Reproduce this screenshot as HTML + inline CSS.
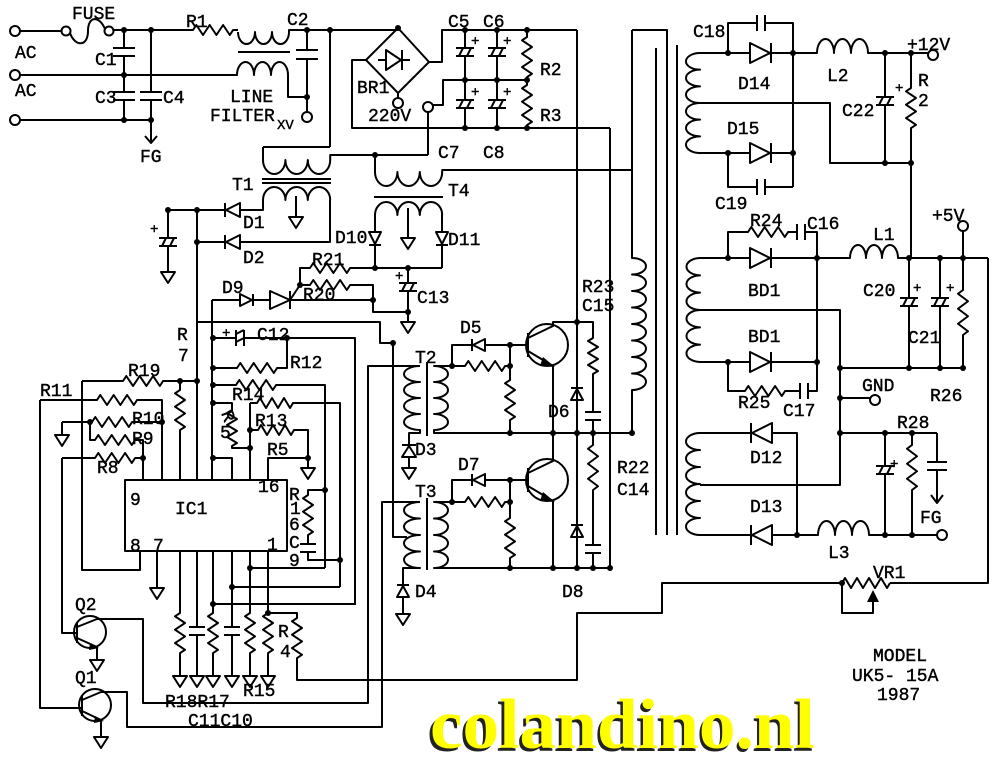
<!DOCTYPE html>
<html><head><meta charset="utf-8"><style>
html,body{margin:0;padding:0;background:#fff;}
svg{display:block;}
.t{font-family:"Liberation Mono","DejaVu Sans Mono",monospace;font-size:18px;fill:#000;stroke:#000;stroke-width:0.4;}
.s{font-size:14px;}
</style></head><body>
<svg xmlns="http://www.w3.org/2000/svg" width="1000" height="760" viewBox="0 0 1000 760">
<rect width="1000" height="760" fill="#fff"/>
<g fill="none" stroke="#000" stroke-width="2" stroke-linejoin="round">
<!-- input -->
<circle cx="15" cy="31" r="5"/><circle cx="15" cy="75" r="5"/><circle cx="15" cy="120" r="5"/>
<path d="M20,31 H62"/>
<circle cx="66" cy="31" r="4.5"/><circle cx="109" cy="31" r="4.5"/>
<path d="M70,33 C75,47 88,47 88,31 C88,16 99,15 105,29"/>
<path d="M113,30 H193 l3.3,-5 l6.7,10 l6.7,-10 l6.7,10 l6.7,-10 l6.7,10 l3.3,-5 H238"/>
<path d="M238,32 a8.5,12 0 0 0 17,0 a8.5,12 0 0 0 17,0 a8.5,12 0 0 0 17,0 V30 H398"/>
<path d="M238,52 H290"/>
<path d="M20,75 H237 a8.5,13 0 0 1 17,0 a8.5,13 0 0 1 17,0 a8.5,13 0 0 1 17,0 V97 H307"/>
<path d="M307,30 V50 M296,50 H318 M296,59 H318 M307,59 V112"/>
<circle cx="307" cy="117" r="5"/>
<path d="M20,120 H151"/>
<path d="M124,30 V48 M113,48 H135 M113,56 H135 M124,56 V92 M113,92 H135 M113,100 H135 M124,100 V120"/>
<path d="M151,30 V92 M140,92 H162 M140,100 H162 M151,100 V143 M145,136 L151,143 L157,136"/>
<path d="M330,30 V147"/>
<!-- BR1 -->
<path d="M398,28 L429,62 L398,93 L366,60 Z M386,50 L386,70 L401,60 Z M402,50 V70 M378,60 H386 M402,60 H410"/>
<path d="M429,62 H442 V30 H577 M366,60 H352 V128 H610 M398,93 V98"/>
<circle cx="398" cy="103" r="5"/><circle cx="428" cy="107" r="5"/>
<path d="M428,112 V155 M433,105 H443 V80 H527"/>
<path d="M465,30 V48 M456,48 H474 M456,56 H474 M459,56 L463,48 M467,56 L471,48 M465,56 V100 M456,100 H474 M456,108 H474 M459,108 L463,100 M467,108 L471,100 M465,108 V128"/>
<path d="M497,30 V48 M488,48 H506 M488,56 H506 M491,56 L495,48 M499,56 L503,48 M497,56 V100 M488,100 H506 M488,108 H506 M491,108 L495,100 M499,108 L503,100 M497,108 V128"/>
<path d="M527,30 V37 l-5,3.3 l10,6.7 l-10,6.7 l10,6.7 l-10,6.7 l10,6.7 l-5,3.3 V85 l-5,3.3 l10,6.7 l-10,6.7 l10,6.7 l-10,6.7 l10,6.7 l-5,3.3 V128"/>
<path d="M577,30 V568 M610,128 V568"/>
<!-- T1 -->
<path d="M263,147 H330 M263,147 V160 a11.2,14 0 0 0 22.4,0 a11.2,14 0 0 0 22.4,0 a11.2,14 0 0 0 22.4,0 V155 H428"/>
<path d="M262,179 H331 M262,183 H331"/>
<path d="M263,200 a11.2,13 0 0 1 22.4,0 a11.2,13 0 0 1 22.4,0 a11.2,13 0 0 1 22.4,0"/>
<path d="M263,200 V210 H240 M330,200 V242 H240 M296,196 V217 M289,217 H303 L296,228 Z"/>
<path d="M240,203 L240,217 L226,210 Z M225,203 V217 M226,210 H168 M240,235 L240,249 L226,242 Z M225,235 V249 M226,242 H197"/>
<path d="M168,210 V238 M159,238 H177 M159,246 H177 M162,246 L166,238 M170,246 L174,238 M168,246 V272 M161,272 H175 L168,283 Z"/>
<path d="M197,210 V480"/>
<!-- T4 -->
<path d="M375,155 V172 a11.2,14 0 0 0 22.4,0 a11.2,14 0 0 0 22.4,0 a11.2,14 0 0 0 22.4,0 V170 H632"/>
<path d="M374,197 H443"/>
<path d="M375,215 a11.2,13 0 0 1 22.4,0 a11.2,13 0 0 1 22.4,0 a11.2,13 0 0 1 22.4,0"/>
<path d="M375,215 V232 M369,232 H381 L375,244 Z M369,245 H381 M375,245 V268"/>
<path d="M408,208 V238 M401,238 H415 L408,249 Z"/>
<path d="M442,215 V232 M436,232 H448 L442,244 Z M436,245 H448 M442,245 V268"/>
<path d="M300,285 V268 H310 l3.3,-5 l6.7,10 l6.7,-10 l6.7,10 l6.7,-10 l6.7,10 l3.3,-5 H442"/>
<path d="M300,285 H310 l3.3,-5 l6.7,10 l6.7,-10 l6.7,10 l6.7,-10 l6.7,10 l3.3,-5 H373 V312 H408"/>
<path d="M408,268 V283 M399,283 H417 M399,291 H417 M402,291 L406,283 M410,291 L414,283 M408,291 V322 M401,322 H415 L408,333 Z"/>
<path d="M212,300 H240 M240,294 V306 L252,300 Z M253,294 V306 M253,300 H270 M270,291 V309 L290,300 Z M290,291 V309 M290,300 L300,285 M290,300 H373"/>
<path d="M197,322 H380 V343 H393 V537 H407"/>
<!-- IC left -->
<path d="M82,381 H123 l3.3,-5 l6.7,10 l6.7,-10 l6.7,10 l6.7,-10 l6.7,10 l3.3,-5 H197"/>
<path d="M180,381 V390 l-5,3.3 l10,6.7 l-10,6.7 l10,6.7 l-10,6.7 l10,6.7 l-5,3.3 V480"/>
<path d="M82,381 V570 H140 V551"/>
<path d="M40,400 H97 l3.3,-5 l6.7,10 l6.7,-10 l6.7,10 l6.7,-10 l6.7,10 l3.3,-5 H162 V480"/>
<path d="M40,400 V708 H82"/>
<path d="M62,422 V435 M55,435 H69 L62,446 Z M62,422 H92 l3.3,-5 l6.7,10 l6.7,-10 l6.7,10 l6.7,-10 l6.7,10 l3.3,-5 H162"/>
<path d="M90,422 V440 H95 l3.3,-5 l6.7,10 l6.7,-10 l6.7,10 l6.7,-10 l6.7,10 l3.3,-5 H143 V480"/>
<path d="M62,458 H95 l3.3,-5 l6.7,10 l6.7,-10 l6.7,10 l6.7,-10 l6.7,10 l3.3,-5 H143"/>
<path d="M62,458 V633 H77"/>
<path d="M125,480 H287 V551 H125 Z"/>
<path d="M212,300 V480"/>
<path d="M213,338 H236 M236,330 V346 M244,330 V346 M236,334 L244,330 M236,342 L244,338 M244,338 H355 V605"/>
<path d="M213,368 H237 l3.3,-5 l6.7,10 l6.7,-10 l6.7,10 l6.7,-10 l6.7,10 l3.3,-5 H287 V338"/>
<path d="M213,385 H236 l3.3,-5 l6.7,10 l6.7,-10 l6.7,10 l6.7,-10 l6.7,10 l3.3,-5 H325 V568"/>
<path d="M213,403 H232 V410 l-5,3 l10,6 l-10,6 l10,6 l-10,6 l10,6 l-5,3 V448 H250"/>
<path d="M250,403 H257 l3,-5 l6,10 l6,-10 l6,10 l6,-10 l6,10 l3,-5 H340 V587"/>
<path d="M250,430 H258 l3,-5 l6,10 l6,-10 l6,10 l6,-10 l6,10 l3,-5 H308 V458"/>
<path d="M250,403 V480"/>
<path d="M268,480 V458 H308 V468 M301,468 H315 L308,479 Z"/>
<path d="M213,458 H232 V480"/>
<path d="M325,490 H308 V495 l-5,3.3 l10,6.7 l-10,6.7 l10,6.7 l-10,6.7 l10,6.7 l-5,3.3 V544 M300,544 H316 M300,552 H316 M308,552 V560 H340"/>
<!-- IC bottom -->
<path d="M180,551 V613 l-5,3.3 l10,6.7 l-10,6.7 l10,6.7 l-10,6.7 l10,6.7 l-5,3.3 V676 M173,676 H187 L180,687 Z"/>
<path d="M197,551 V627 M189,627 H205 M189,635 H205 M197,635 V676 M190,676 H204 L197,687 Z"/>
<path d="M213,551 V613 l-5,3.3 l10,6.7 l-10,6.7 l10,6.7 l-10,6.7 l10,6.7 l-5,3.3 V676 M206,676 H220 L213,687 Z"/>
<path d="M232,551 V627 M224,627 H240 M224,635 H240 M232,635 V676 M225,676 H239 L232,687 Z"/>
<path d="M250,551 V613 l-5,3.3 l10,6.7 l-10,6.7 l10,6.7 l-10,6.7 l10,6.7 l-5,3.3 V676 M243,676 H257 L250,687 Z"/>
<path d="M268,551 V613 l-5,3.3 l10,6.7 l-10,6.7 l10,6.7 l-10,6.7 l10,6.7 l-5,3.3 V676 M261,676 H275 L268,687 Z"/>
<path d="M250,568 H325 M232,587 H340 M213,604 H355"/>
<path d="M268,613 H297 V618 l-5,3.3 l10,6.7 l-10,6.7 l10,6.7 l-10,6.7 l10,6.7 l-5,3.3 V680 H577 V613 H662 V583 H842"/>
<path d="M157,551 V588 M150,588 H164 L157,599 Z"/>
<!-- Q2 Q1 -->
<circle cx="90" cy="632" r="16"/>
<path d="M77,622 V643 M77,627 L97,619 H143 V703 H368 V366 H420 M77,638 L97,647 V660 M90,660 H104 L97,671 Z"/>
<circle cx="95" cy="705" r="16"/>
<path d="M82,695 V716 M82,700 L101,692 H127 V727 H382 V502 H420 M82,711 L101,720 V737 M94,737 H108 L101,748 Z"/>
<!-- T2 -->
<path d="M420,366 a16,8 0 0 0 0,16 a16,8 0 0 0 0,16 a16,8 0 0 0 0,16 a16,8 0 0 0 0,16 V433 H409 V445"/>
<path d="M402,457 H416 L409,446 Z M402,445 H416 M409,457 V468 M402,468 H416 L409,479 Z"/>
<path d="M427,362 V436"/>
<path d="M452,366 H434 a14,8 0 0 1 0,16 a14,8 0 0 1 0,16 a14,8 0 0 1 0,16 a14,8 0 0 1 0,16 V433 H632"/>
<path d="M452,366 V345 H472 M485,339 V351 L473,345 Z M472,339 V351 M485,345 H528"/>
<path d="M452,366 H465 l3.3,-5 l6.7,10 l6.7,-10 l6.7,10 l6.7,-10 l6.7,10 l3.3,-5 H510"/>
<path d="M510,345 V380 l-5,3.3 l10,6.7 l-10,6.7 l10,6.7 l-10,6.7 l10,6.7 l-5,3.3 V433"/>
<circle cx="547" cy="345" r="21"/>
<path d="M528,333 V357 M528,338 L553,326 V322 H577 M528,351 L553,366 V433"/>
<path d="M577,322 H593 V338 l-5,3 l10,6 l-10,6 l10,6 l-10,6 l10,6 l-5,3 V412 M585,412 H601 M585,420 H601 M593,420 V433"/>
<path d="M571,400 H583 L577,389 Z M571,388 H583"/>
<path d="M632,30 V258 a14,8.25 0 0 1 0,16.5 a14,8.25 0 0 1 0,16.5 a14,8.25 0 0 1 0,16.5 a14,8.25 0 0 1 0,16.5 a14,8.25 0 0 1 0,16.5 a14,8.25 0 0 1 0,16.5 a14,8.25 0 0 1 0,16.5 a14,8.25 0 0 1 0,16.5 V433"/>
<!-- T3 -->
<path d="M420,502 a16,8.25 0 0 0 0,16.5 a16,8.25 0 0 0 0,16.5 a16,8.25 0 0 0 0,16.5 a16,8.25 0 0 0 0,16.5 H403 V585"/>
<path d="M397,597 H409 L403,586 Z M397,585 H409 M403,597 V614 M396,614 H410 L403,625 Z"/>
<path d="M427,498 V570"/>
<path d="M452,502 H434 a14,8.25 0 0 1 0,16.5 a14,8.25 0 0 1 0,16.5 a14,8.25 0 0 1 0,16.5 a14,8.25 0 0 1 0,16.5 H612"/>
<path d="M452,502 V480 H472 M485,474 V486 L473,480 Z M472,474 V486 M485,480 H528"/>
<path d="M452,502 H465 l3.3,-5 l6.7,10 l6.7,-10 l6.7,10 l6.7,-10 l6.7,10 l3.3,-5 H510"/>
<path d="M510,480 V518 l-5,3.3 l10,6.7 l-10,6.7 l10,6.7 l-10,6.7 l10,6.7 l-5,3.3 V568"/>
<circle cx="547" cy="480" r="21"/>
<path d="M528,468 V492 M528,473 L553,461 V433 M528,486 L553,501 V568"/>
<path d="M571,537 H583 L577,526 Z M571,525 H583"/>
<path d="M593,433 V445 l-5,3.75 l10,7.5 l-10,7.5 l10,7.5 l-10,7.5 l10,7.5 l-5,3.75 V545 M585,545 H601 M585,553 H601 M593,553 V568"/>
<!-- main transformer core -->
<path d="M632,30 H667 V535 M656,48 V535 M677,45 V535"/>
<!-- +12V -->
<path d="M700,53 a14,8.33 0 0 0 0,16.67 a14,8.33 0 0 0 0,16.67 a14,8.33 0 0 0 0,16.67 a14,8.33 0 0 0 0,16.67 a14,8.33 0 0 0 0,16.67 a14,8.33 0 0 0 0,16.67"/>
<path d="M700,53 H750 M750,43 V63 L770,53 Z M771,43 V63 M771,53 H817 a8.5,14 0 0 1 17,0 a8.5,14 0 0 1 17,0 a8.5,14 0 0 1 17,0 H928"/>
<circle cx="933" cy="55" r="5"/>
<path d="M728,53 V23 H757 M757,15 V31 M765,15 V31 M765,23 H793 V187"/>
<path d="M700,103 H830 V163 H911"/>
<path d="M700,153 H750 M750,143 V163 L770,153 Z M771,143 V163 M771,153 H793"/>
<path d="M728,153 V187 H757 M757,179 V195 M765,179 V195 M765,187 H793"/>
<path d="M885,53 V97 M876,97 H894 M876,105 H894 M879,105 L883,97 M887,105 L891,97 M885,105 V163"/>
<path d="M911,53 V88 l-5,3.3 l10,6.7 l-10,6.7 l10,6.7 l-10,6.7 l10,6.7 l-5,3.3 V258"/>
<!-- +5V -->
<path d="M700,258 a14,8.67 0 0 0 0,17.33 a14,8.67 0 0 0 0,17.33 a14,8.67 0 0 0 0,17.33 a14,8.67 0 0 0 0,17.33 a14,8.67 0 0 0 0,17.33 a14,8.67 0 0 0 0,17.33"/>
<path d="M728,258 V232 H748 l3.3,-5 l6.7,10 l6.7,-10 l6.7,10 l6.7,-10 l6.7,10 l3.3,-5 H797 M797,224 V240 M805,224 V240 M805,232 H817 V362"/>
<path d="M700,258 H750 M750,248 V268 L770,258 Z M771,248 V268 M771,258 H850 a8,13 0 0 1 16,0 a8,13 0 0 1 16,0 a8,13 0 0 1 16,0 H988"/>
<circle cx="963" cy="226" r="5"/>
<path d="M963,231 V258"/>
<path d="M700,310 H840 V485 H700"/>
<path d="M700,362 H750 M750,352 V372 L770,362 Z M771,352 V372 M771,362 H817"/>
<path d="M728,362 V391 H745 l3.3,-5 l6.7,10 l6.7,-10 l6.7,10 l6.7,-10 l6.7,10 l3.3,-5 H800 M800,383 V399 M808,383 V399 M808,391 H817 V362"/>
<path d="M840,368 H963"/>
<path d="M909,258 V298 M900,298 H918 M900,306 H918 M903,306 L907,298 M911,306 L915,298 M909,306 V368"/>
<path d="M940,258 V298 M931,298 H949 M931,306 H949 M934,306 L938,298 M942,306 L946,298 M940,306 V368"/>
<path d="M963,258 V290 l-5,3.75 l10,7.5 l-10,7.5 l10,7.5 l-10,7.5 l10,7.5 l-5,3.75 V368"/>
<path d="M840,398 H870"/>
<circle cx="875" cy="400" r="5"/>
<path d="M840,433 H937"/>
<path d="M885,433 V466 M876,466 H894 M876,474 H894 M879,474 L883,466 M887,474 L891,466 M885,474 V535"/>
<path d="M912,433 V445 l-5,3.75 l10,7.5 l-10,7.5 l10,7.5 l-10,7.5 l10,7.5 l-5,3.75 V535"/>
<path d="M937,433 V462 M927,462 H947 M927,470 H947 M937,470 V502 M931,495 L937,503 L943,495"/>
<path d="M988,258 V583 H890"/>
<path d="M700,433 a14,8.5 0 0 0 0,17 a14,8.5 0 0 0 0,17 a14,8.5 0 0 0 0,17 a14,8.5 0 0 0 0,17 a14,8.5 0 0 0 0,17 a14,8.5 0 0 0 0,17"/>
<path d="M700,433 H752 M772,423 V443 L752,433 Z M751,423 V443 M772,433 H797 V535"/>
<path d="M700,535 H752 M772,525 V545 L752,535 Z M751,525 V545 M772,535 H818 a8.5,14 0 0 1 17,0 a8.5,14 0 0 1 17,0 a8.5,14 0 0 1 17,0 H937"/>
<circle cx="942" cy="535" r="5"/>
<path d="M842,583 l3,-5 l6,10 l6,-10 l6,10 l6,-10 l6,10 l6,-10 l6,10 l3,-5 M842,583 V613 H873 V602"/>
</g>
<g fill="#000" stroke="none">
<path d="M867,602 L879,602 L873,590 Z"/>
<path d="M543,357 L555,367 L540,366 Z"/>
<path d="M543,492 L555,502 L540,501 Z"/>
<path d="M90,643 L99,648 L89,650 Z"/>
<path d="M95,716 L104,721 L94,723 Z"/>
<circle cx="124" cy="30" r="3"/><circle cx="151" cy="30" r="3"/><circle cx="124" cy="75" r="3"/><circle cx="124" cy="120" r="3"/><circle cx="151" cy="120" r="3"/>
<circle cx="307" cy="30" r="3"/><circle cx="307" cy="97" r="3"/><circle cx="330" cy="30" r="3"/><circle cx="398" cy="28" r="3"/>
<circle cx="465" cy="30" r="3"/><circle cx="497" cy="30" r="3"/><circle cx="527" cy="30" r="3"/>
<circle cx="465" cy="80" r="3"/><circle cx="497" cy="80" r="3"/><circle cx="527" cy="80" r="3"/>
<circle cx="465" cy="128" r="3"/><circle cx="497" cy="128" r="3"/><circle cx="527" cy="128" r="3"/>
<circle cx="375" cy="155" r="3"/><circle cx="168" cy="210" r="3"/><circle cx="197" cy="210" r="3"/><circle cx="197" cy="242" r="3"/>
<circle cx="375" cy="268" r="3"/><circle cx="408" cy="268" r="3"/><circle cx="300" cy="285" r="3"/><circle cx="373" cy="300" r="3"/><circle cx="408" cy="312" r="3"/>
<circle cx="213" cy="338" r="3"/><circle cx="287" cy="338" r="3"/><circle cx="213" cy="368" r="3"/><circle cx="213" cy="385" r="3"/><circle cx="213" cy="403" r="3"/><circle cx="213" cy="458" r="3"/>
<circle cx="250" cy="430" r="3"/><circle cx="250" cy="448" r="3"/><circle cx="308" cy="458" r="3"/><circle cx="325" cy="490" r="3"/><circle cx="340" cy="560" r="3"/>
<circle cx="180" cy="381" r="3"/><circle cx="197" cy="381" r="3"/><circle cx="90" cy="422" r="3"/><circle cx="162" cy="422" r="3"/><circle cx="143" cy="458" r="3"/>
<circle cx="250" cy="568" r="3"/><circle cx="232" cy="587" r="3"/><circle cx="213" cy="604" r="3"/><circle cx="268" cy="613" r="3"/><circle cx="393" cy="343" r="3"/>
<circle cx="452" cy="366" r="3"/><circle cx="510" cy="345" r="3"/><circle cx="510" cy="366" r="3"/><circle cx="510" cy="433" r="3"/><circle cx="553" cy="433" r="3"/><circle cx="577" cy="433" r="3"/><circle cx="593" cy="433" r="3"/><circle cx="632" cy="433" r="3"/><circle cx="577" cy="322" r="3"/>
<circle cx="452" cy="502" r="3"/><circle cx="510" cy="480" r="3"/><circle cx="510" cy="502" r="3"/><circle cx="510" cy="568" r="3"/><circle cx="553" cy="568" r="3"/><circle cx="577" cy="568" r="3"/><circle cx="593" cy="568" r="3"/><circle cx="610" cy="568" r="3"/>
<circle cx="728" cy="53" r="3"/><circle cx="793" cy="53" r="3"/><circle cx="728" cy="153" r="3"/><circle cx="793" cy="153" r="3"/><circle cx="885" cy="53" r="3"/><circle cx="911" cy="53" r="3"/><circle cx="885" cy="163" r="3"/><circle cx="911" cy="163" r="3"/>
<circle cx="728" cy="258" r="3"/><circle cx="817" cy="258" r="3"/><circle cx="909" cy="258" r="3"/><circle cx="940" cy="258" r="3"/><circle cx="963" cy="258" r="3"/>
<circle cx="728" cy="362" r="3"/><circle cx="817" cy="362" r="3"/><circle cx="840" cy="368" r="3"/><circle cx="909" cy="368" r="3"/><circle cx="940" cy="368" r="3"/><circle cx="963" cy="368" r="3"/>
<circle cx="840" cy="398" r="3"/><circle cx="840" cy="433" r="3"/><circle cx="885" cy="433" r="3"/><circle cx="912" cy="433" r="3"/>
<circle cx="797" cy="535" r="3"/><circle cx="885" cy="535" r="3"/><circle cx="912" cy="535" r="3"/><circle cx="842" cy="583" r="3"/>
</g>
<g class="t">
<text x="72" y="19">FUSE</text>
<text x="186" y="27">R1</text>
<text x="287" y="25">C2</text>
<text x="15" y="58">AC</text>
<text x="15" y="96">AC</text>
<text x="95" y="65">C1</text>
<text x="95" y="103">C3</text>
<text x="163" y="103">C4</text>
<text x="230" y="102">LINE</text>
<text x="210" y="121">FILTER</text>
<text x="277" y="129" class="s">XV</text>
<text x="140" y="162">FG</text>
<text x="357" y="93">BR1</text>
<text x="368" y="121">220V</text>
<text x="448" y="27">C5</text>
<text x="483" y="27">C6</text>
<text x="540" y="75">R2</text>
<text x="540" y="121">R3</text>
<text x="438" y="158">C7</text>
<text x="483" y="158">C8</text>
<text x="232" y="190">T1</text>
<text x="448" y="196">T4</text>
<text x="243" y="228">D1</text>
<text x="243" y="263">D2</text>
<text x="335" y="243">D10</text>
<text x="448" y="245">D11</text>
<text x="312" y="265">R21</text>
<text x="303" y="300">R20</text>
<text x="222" y="293">D9</text>
<text x="417" y="303">C13</text>
<text x="257" y="340">C12</text>
<text x="177" y="340">R</text>
<text x="178" y="361">7</text>
<text x="290" y="368">R12</text>
<text x="128" y="376">R19</text>
<text x="40" y="396">R11</text>
<text x="232" y="400">R14</text>
<text x="132" y="424">R10</text>
<text x="132" y="444">R9</text>
<text x="97" y="473">R8</text>
<text x="255" y="426">R13</text>
<text x="267" y="455">R5</text>
<text transform="translate(221,413) rotate(70)">R</text>
<text x="220" y="438">5</text>
<text x="258" y="492">16</text>
<text x="130" y="505">9</text>
<text x="175" y="514">IC1</text>
<text x="130" y="551">8</text>
<text x="153" y="551">7</text>
<text x="267" y="550">1</text>
<text x="289" y="500">R</text>
<text x="290" y="514">1</text>
<text x="289" y="530">6</text>
<text x="289" y="548">C</text>
<text x="289" y="566">9</text>
<text x="75" y="610">Q2</text>
<text x="75" y="683">Q1</text>
<text x="278" y="637">R</text>
<text x="280" y="657">4</text>
<text x="165" y="707">R18R17</text>
<text x="188" y="726">C11C10</text>
<text x="243" y="696">R15</text>
<text x="415" y="363">T2</text>
<text x="415" y="455">D3</text>
<text x="460" y="333">D5</text>
<text x="582" y="292">R23</text>
<text x="582" y="311">C15</text>
<text x="548" y="417">D6</text>
<text x="617" y="473">R22</text>
<text x="617" y="495">C14</text>
<text x="458" y="470">D7</text>
<text x="415" y="497">T3</text>
<text x="415" y="597">D4</text>
<text x="562" y="597">D8</text>
<text x="693" y="37">C18</text>
<text x="738" y="89">D14</text>
<text x="827" y="81">L2</text>
<text x="907" y="50">+12V</text>
<text x="918" y="86">R</text>
<text x="918" y="106">2</text>
<text x="842" y="116">C22</text>
<text x="727" y="134">D15</text>
<text x="715" y="209">C19</text>
<text x="750" y="226">R24</text>
<text x="807" y="229">C16</text>
<text x="932" y="221">+5V</text>
<text x="873" y="240">L1</text>
<text x="748" y="296">BD1</text>
<text x="748" y="342">BD1</text>
<text x="863" y="296">C20</text>
<text x="908" y="343">C21</text>
<text x="862" y="391">GND</text>
<text x="930" y="401">R26</text>
<text x="738" y="408">R25</text>
<text x="783" y="416">C17</text>
<text x="897" y="428">R28</text>
<text x="750" y="463">D12</text>
<text x="750" y="512">D13</text>
<text x="920" y="523">FG</text>
<text x="828" y="558">L3</text>
<text x="873" y="578">VR1</text>
<text x="873" y="661">MODEL</text>
<text x="852" y="681">UK5- 15A</text>
<text x="877" y="700">1987</text>
</g>
<g class="t s">
<text x="150" y="233">+</text>
<text x="471" y="45">+</text><text x="503" y="45">+</text>
<text x="471" y="96">+</text><text x="503" y="96">+</text>
<text x="395" y="280">+</text>
<text x="222" y="337">+</text>
<text x="895" y="92">+</text>
<text x="913" y="292">+</text>
<text x="946" y="292">+</text>
<text x="890" y="468">+</text>
</g>
<text x="427" y="751" font-family="Liberation Serif" font-weight="bold" font-size="71" fill="#222" textLength="386" lengthAdjust="spacingAndGlyphs">colandino.nl</text>
<text x="430" y="748" font-family="Liberation Serif" font-weight="bold" font-size="71" fill="#ffff00" textLength="385" lengthAdjust="spacingAndGlyphs">colandino.nl</text>
</svg>
</body></html>
